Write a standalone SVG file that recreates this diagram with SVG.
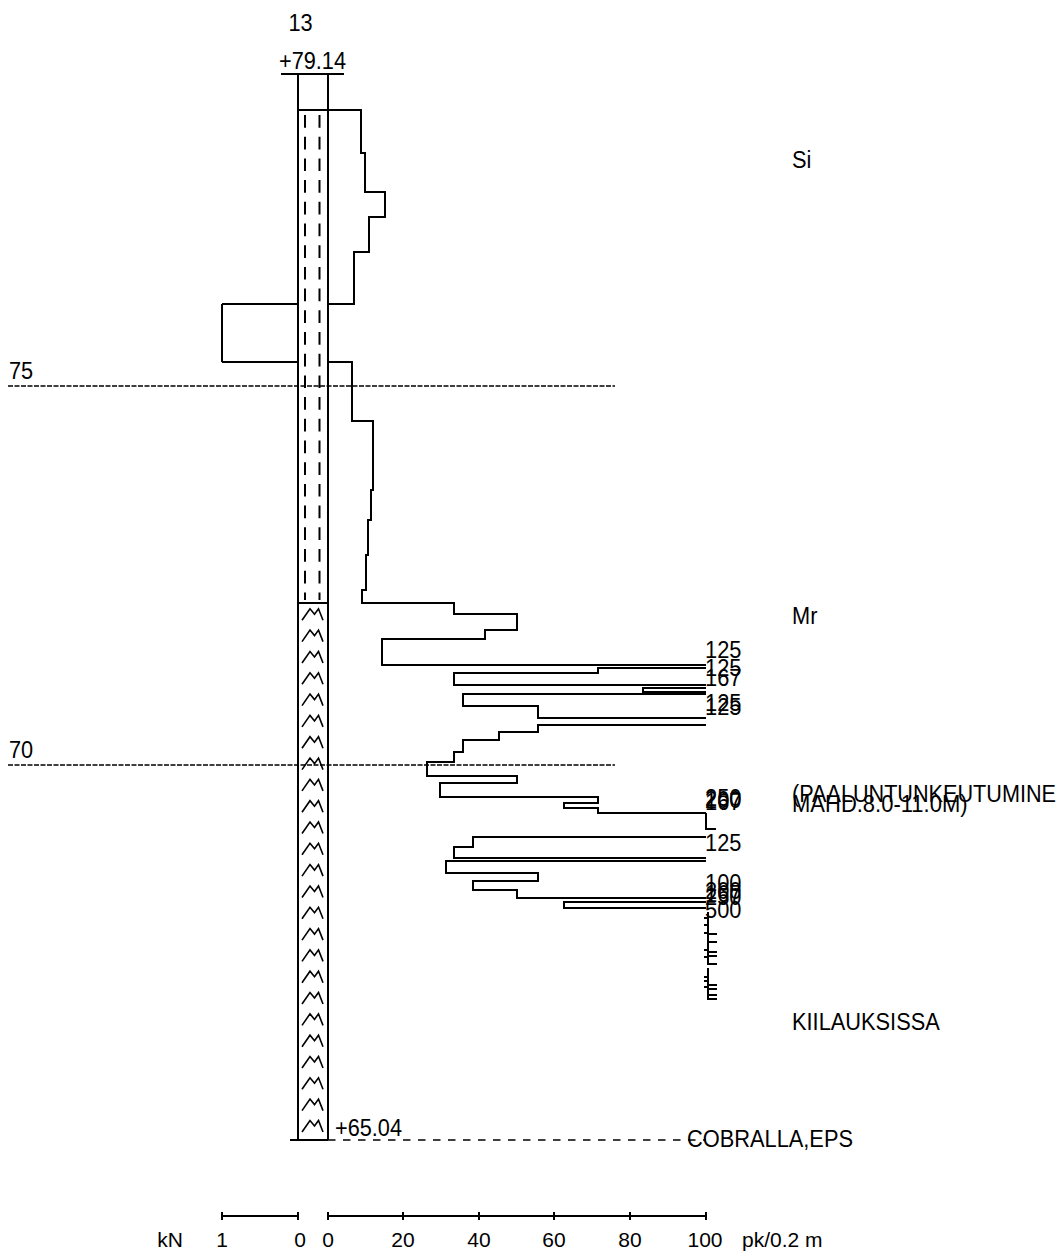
<svg xmlns="http://www.w3.org/2000/svg" width="1061" height="1252" viewBox="0 0 1061 1252">
<style>
text{font-family:"Liberation Sans",Arial,sans-serif;font-size:23px;fill:#000}
.sc{font-size:21px}
.ln{fill:none;stroke:#000;stroke-width:2}
.thin{fill:none;stroke:#000;stroke-width:2}
.lvl{fill:none;stroke:#000;stroke-width:1.5;stroke-dasharray:5 1.5}
.dash{fill:none;stroke:#000;stroke-width:2;stroke-dasharray:12.7 9}
.mr{fill:none;stroke:#000;stroke-width:1.6}
</style>
<defs>
<path id="m" class="mr" d="M302 12 L310 0.5 L314.5 6 L318.5 0.5 L323 12"/>
</defs>
<rect width="1061" height="1252" fill="#fff"/>
<g id="header">
<text x="288.4" y="31" textLength="24.2" lengthAdjust="spacingAndGlyphs">13</text>
<text x="279" y="69" textLength="67" lengthAdjust="spacingAndGlyphs">+79.14</text>
<line class="ln" x1="281" y1="74" x2="344" y2="74"/>
</g>
<g id="levels">
<line class="lvl" x1="8" y1="386" x2="615" y2="386"/>
<text x="9" y="379" textLength="24.2" lengthAdjust="spacingAndGlyphs">75</text>
<line class="lvl" x1="8" y1="765" x2="615" y2="765"/>
<text x="9" y="758" textLength="24.2" lengthAdjust="spacingAndGlyphs">70</text>
</g>
<g id="column">
<line class="ln" x1="298" y1="74" x2="298" y2="1140"/>
<line class="ln" x1="328" y1="74" x2="328" y2="1140"/>
<line class="ln" x1="298" y1="110" x2="328" y2="110"/>
<line class="ln" x1="298" y1="603" x2="328" y2="603"/>
<line class="dash" x1="305" y1="115" x2="305" y2="600"/>
<line class="dash" x1="319.5" y1="115" x2="319.5" y2="600"/>
<line class="ln" x1="290" y1="1140" x2="328" y2="1140"/>
<line x1="328" y1="1140" x2="706" y2="1140" stroke="#000" stroke-width="1.5" stroke-dasharray="7.5 7.5"/>
<use href="#m" y="608.3"/><use href="#m" y="629.6"/><use href="#m" y="651"/><use href="#m" y="672.3"/><use href="#m" y="693.6"/>
<use href="#m" y="714.9"/><use href="#m" y="736.2"/><use href="#m" y="757.6"/><use href="#m" y="778.9"/><use href="#m" y="800.2"/>
<use href="#m" y="821.5"/><use href="#m" y="842.8"/><use href="#m" y="864.1"/><use href="#m" y="885.5"/><use href="#m" y="906.8"/>
<use href="#m" y="928.1"/><use href="#m" y="949.4"/><use href="#m" y="970.7"/><use href="#m" y="992"/><use href="#m" y="1013.4"/>
<use href="#m" y="1034.7"/><use href="#m" y="1056"/><use href="#m" y="1077.3"/><use href="#m" y="1098.6"/><use href="#m" y="1120"/>
<text x="335" y="1136" textLength="67" lengthAdjust="spacingAndGlyphs">+65.04</text>
</g>
<g id="connectors">
<path class="ln" d="M222 304 H298 M222 362 H298 M222 304 V362"/>
<path class="ln" d="M328 110 H361 V153 H365 V192 H385 V217 H369 V252 H354 V304 H328"/>
<path class="ln" d="M328 362 H352 V421 H373 V490 H371 V520 H368 V555 H366 V590 H362 V603 H454 V614 H517 V630 H485 V639 H382 V665 H706"/>
<path class="ln" d="M706 668 H598 V673 H454 V685 H706 M706 688 H643 V692 H706 M706 694 H463 V706 H538 V718 H706"/>
<path class="ln" d="M706 725 H538 V732 H499 V740 H463 V752 H454 V762 H427 V776 H517 V783 H440 V797 H598 V803 H564 V808 H598 V813 H706"/>
<path class="ln" d="M706 837 H473 V847 H454 V858 H706 M706 861 H446 V873 H538 V881 H473 V890 H517 V898 H706 M706 902 H564 V908 H706"/>
<path class="thin" d="M706 813 V829 H716 M708 912 V965 M708 934 H717 M708 942 H717 M708 952 H717 M708 956 H717 M708 964 H717 M708 968 V1000 M708 985 H717 M708 989 H717 M708 995 H717 M708 999 H717 M704 918 H707 M704 925 H707 M704 933 H707 M704 950 H707 M704 957 H707 M704 977 H707 M704 981 H707 M704 987 H707"/>
</g>
<g id="labels">
<text x="705" y="658" textLength="36.4" lengthAdjust="spacingAndGlyphs">125</text>
<text x="705" y="676" textLength="36.4" lengthAdjust="spacingAndGlyphs">125</text>
<text x="705" y="686" textLength="36.4" lengthAdjust="spacingAndGlyphs">167</text>
<text x="705" y="711" textLength="36.4" lengthAdjust="spacingAndGlyphs">125</text>
<text x="705" y="715" textLength="36.4" lengthAdjust="spacingAndGlyphs">125</text>
<text x="705" y="806" textLength="36.4" lengthAdjust="spacingAndGlyphs">250</text>
<text x="705" y="808" textLength="36.4" lengthAdjust="spacingAndGlyphs">200</text>
<text x="705" y="810" textLength="36.4" lengthAdjust="spacingAndGlyphs">167</text>
<text x="705" y="851" textLength="36.4" lengthAdjust="spacingAndGlyphs">125</text>
<text x="705" y="891" textLength="36.4" lengthAdjust="spacingAndGlyphs">100</text>
<text x="705" y="899" textLength="36.4" lengthAdjust="spacingAndGlyphs">200</text>
<text x="705" y="902" textLength="36.4" lengthAdjust="spacingAndGlyphs">167</text>
<text x="705" y="905" textLength="36.4" lengthAdjust="spacingAndGlyphs">250</text>
<text x="705" y="918" textLength="36.4" lengthAdjust="spacingAndGlyphs">500</text>
<text x="792" y="168" textLength="19.4" lengthAdjust="spacingAndGlyphs">Si</text>
<text x="792" y="624" textLength="25.4" lengthAdjust="spacingAndGlyphs">Mr</text>
<text x="792" y="802" textLength="264" lengthAdjust="spacingAndGlyphs">(PAALUNTUNKEUTUMINE</text>
<text x="792" y="812" textLength="175.6" lengthAdjust="spacingAndGlyphs">MAHD.8.0-11.0M)</text>
<text x="792" y="1030" textLength="147.8" lengthAdjust="spacingAndGlyphs">KIILAUKSISSA</text>
<text x="687" y="1147" textLength="166" lengthAdjust="spacingAndGlyphs">COBRALLA,EPS</text>
</g>
<g id="scale">
<path class="ln" d="M222 1216 H298 M222 1212 V1220 M298 1212 V1220 M328 1216 H706 M328 1212 V1220 M403 1212 V1220 M479 1212 V1220 M554 1212 V1220 M630 1212 V1220 M706 1212 V1220"/>
<text class="sc" x="170" y="1247" text-anchor="middle">kN</text>
<text class="sc" x="222" y="1247" text-anchor="middle">1</text>
<text class="sc" x="300" y="1247" text-anchor="middle">0</text>
<text class="sc" x="328" y="1247" text-anchor="middle">0</text>
<text class="sc" x="403" y="1247" text-anchor="middle">20</text>
<text class="sc" x="479" y="1247" text-anchor="middle">40</text>
<text class="sc" x="554" y="1247" text-anchor="middle">60</text>
<text class="sc" x="630" y="1247" text-anchor="middle">80</text>
<text class="sc" x="705" y="1247" text-anchor="middle">100</text>
<text class="sc" x="742" y="1247">pk/0.2 m</text>
</g>
</svg>
